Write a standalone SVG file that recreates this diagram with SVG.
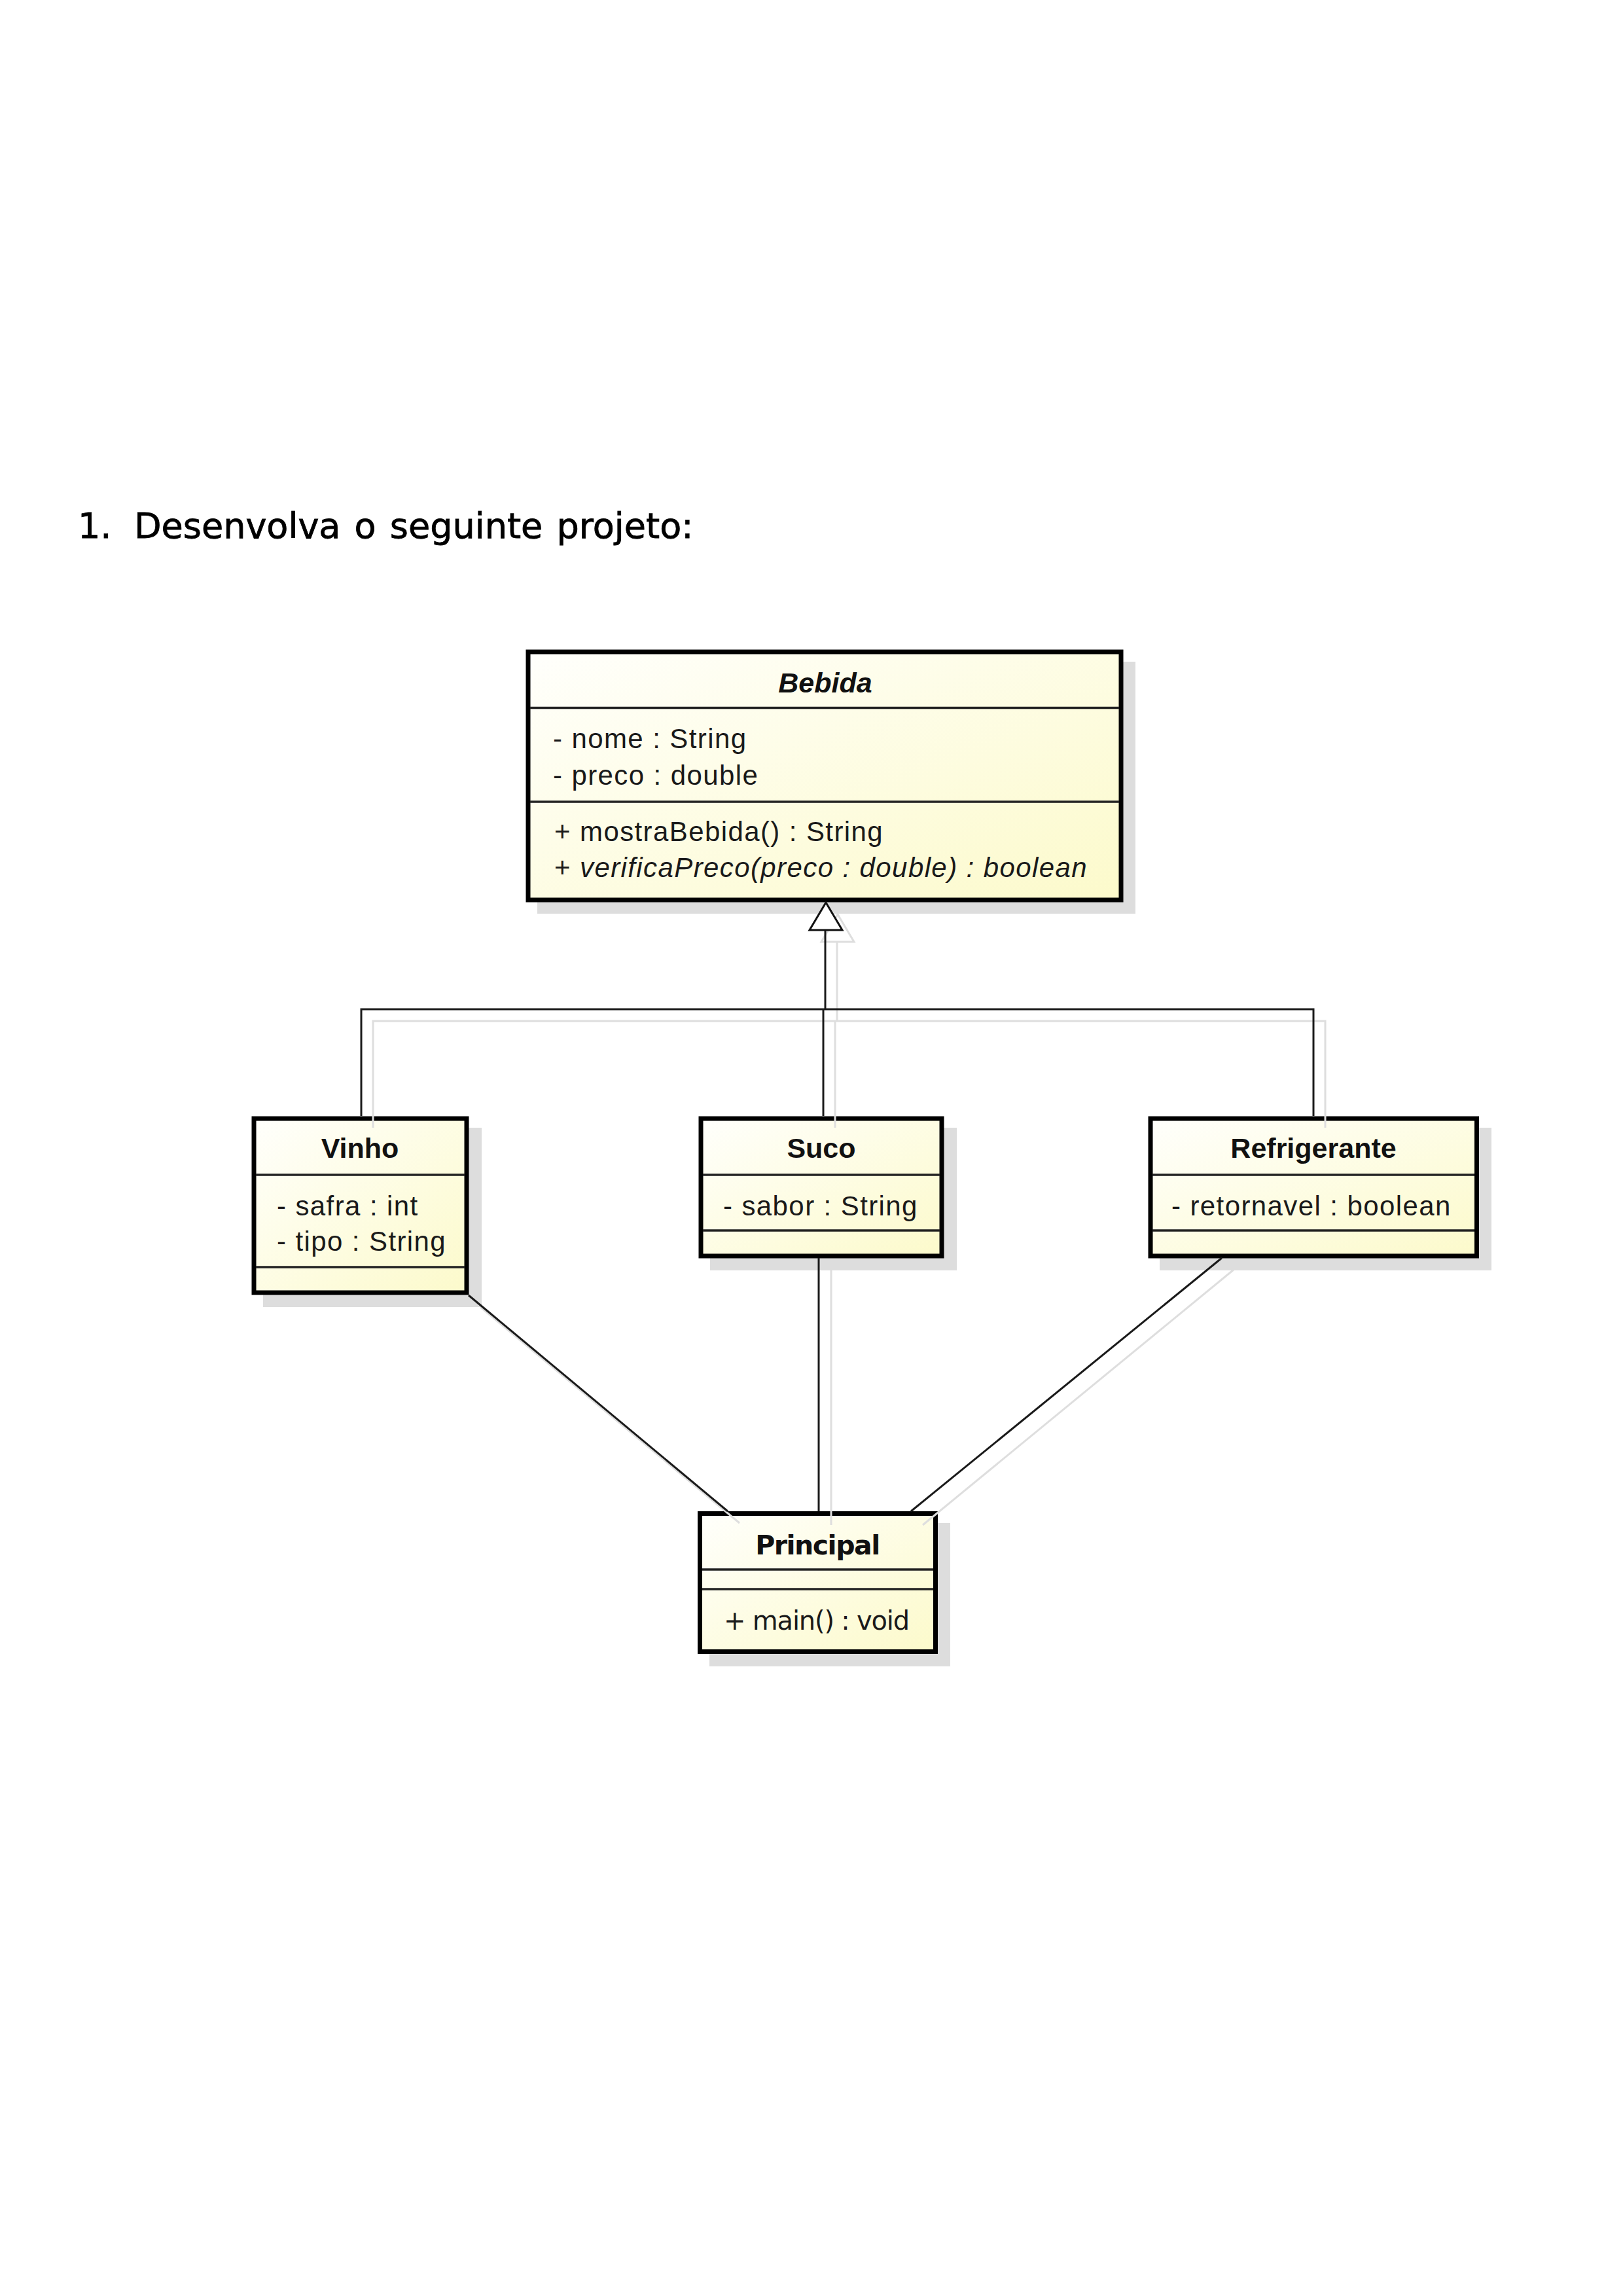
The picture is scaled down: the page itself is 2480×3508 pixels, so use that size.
<svg xmlns="http://www.w3.org/2000/svg" width="2480" height="3508" viewBox="0 0 2480 3508">
  <defs>
    <linearGradient id="classFill" x1="0" y1="0" x2="1" y2="1">
      <stop offset="0" stop-color="#fffffc"/>
      <stop offset="1" stop-color="#fcfacb"/>
    </linearGradient>
    <style>
      .shadow { fill: #dddddd; }
      .box { fill: url(#classFill); stroke: #000000; stroke-width: 7; }
      .sep { stroke: #222222; stroke-width: 3.5; }
      .name { font-family: "Liberation Sans", Arial, sans-serif; font-size: 43px; font-weight: bold; fill: #111111; text-anchor: middle; }
      .abstract { font-style: italic; }
      .member { font-family: "Liberation Sans", Arial, sans-serif; font-size: 42px; letter-spacing: 1.4px; fill: #1a1a1a; }
      .italic { font-style: italic; }
      .tname { font-family: "DejaVu Sans", Verdana, sans-serif; font-size: 41px; font-weight: bold; letter-spacing: -1.5px; fill: #111111; text-anchor: middle; }
      .tmember { font-family: "DejaVu Sans", Verdana, sans-serif; font-size: 40px; letter-spacing: -1.2px; fill: #1a1a1a; }
      .heading { font-family: "DejaVu Sans", Verdana, sans-serif; font-size: 54px; fill: #000000; stroke: #000000; stroke-width: 0.8; }
      .link { fill: none; stroke: #1a1a1a; stroke-width: 3; }
      .link-shadow { fill: none; stroke: #dedede; stroke-width: 3; }
    </style>
  </defs>

  <rect width="2480" height="3508" fill="#ffffff"/>

  <!-- exercise heading -->
  <text class="heading" x="119" y="822">1.</text>
  <text class="heading" x="205" y="822" word-spacing="4">Desenvolva o seguinte projeto:</text>

  <!-- abstract superclass -->
  <g id="bebida">
    <rect class="shadow" x="821" y="1011" width="914" height="385"/>
    <rect class="box" x="807" y="996" width="906" height="379"/>
    <line class="sep" x1="810" y1="1081.5" x2="1710" y2="1081.5"/>
    <line class="sep" x1="810" y1="1225" x2="1710" y2="1225"/>
    <text class="name abstract" x="1261" y="1058">Bebida</text>
    <text class="member" x="845" y="1143">- nome : String</text>
    <text class="member" x="845" y="1199">- preco : double</text>
    <text class="member" x="847" y="1285">+ mostraBebida() : String</text>
    <text class="member" x="847" y="1340">+ <tspan class="italic">verificaPreco(preco : double) : boolean</tspan></text>
  </g>

  <g id="vinho">
    <rect class="shadow" x="402" y="1723" width="334" height="274"/>
    <rect class="box" x="388" y="1709" width="325" height="266"/>
    <line class="sep" x1="391" y1="1795" x2="710" y2="1795"/>
    <line class="sep" x1="391" y1="1936" x2="710" y2="1936"/>
    <text class="name" x="550" y="1769">Vinho</text>
    <text class="member" x="423" y="1857">- safra : int</text>
    <text class="member" x="423" y="1911">- tipo : String</text>
  </g>

  <g id="suco">
    <rect class="shadow" x="1085" y="1723" width="377" height="218"/>
    <rect class="box" x="1071" y="1709" width="368" height="210"/>
    <line class="sep" x1="1074" y1="1795" x2="1436" y2="1795"/>
    <line class="sep" x1="1074" y1="1880" x2="1436" y2="1880"/>
    <text class="name" x="1255" y="1769">Suco</text>
    <text class="member" x="1105" y="1857">- sabor : String</text>
  </g>

  <g id="refrigerante">
    <rect class="shadow" x="1772" y="1723" width="507" height="218"/>
    <rect class="box" x="1758" y="1709" width="498.5" height="210"/>
    <line class="sep" x1="1761" y1="1795" x2="2253" y2="1795"/>
    <line class="sep" x1="1761" y1="1880" x2="2253" y2="1880"/>
    <text class="name" x="2007" y="1769">Refrigerante</text>
    <text class="member" x="1790" y="1857">- retornavel : boolean</text>
  </g>

  <g id="principal">
    <rect class="shadow" x="1084" y="2327" width="368" height="219"/>
    <rect class="box" x="1069.5" y="2312.5" width="360" height="211"/>
    <line class="sep" x1="1073" y1="2398" x2="1426" y2="2398"/>
    <line class="sep" x1="1073" y1="2428" x2="1426" y2="2428"/>
    <text class="tname" x="1249" y="2375">Principal</text>
    <text class="tmember" x="1106" y="2490">+ main() : void</text>
  </g>

  <g id="connectors">
    <!-- soft drop shadows of the connectors -->
    <g class="link-shadow">
      <polygon points="1280,1397 1305,1439 1255,1439" fill="none"/>
      <polyline points="1279,1439 1279,1560"/>
      <polyline points="570,1723 570,1560 2025,1560 2025,1723"/>
      <polyline points="1276,1560 1276,1723"/>
      <line x1="734" y1="1997" x2="1130" y2="2327"/>
      <line x1="1270" y1="1940" x2="1270" y2="2330"/>
      <line x1="1885" y1="1940" x2="1410" y2="2330"/>
    </g>

    <!-- generalization: Vinho, Suco, Refrigerante extend Bebida -->
    <polyline class="link" points="1261,1421 1261,1542"/>
    <polyline class="link" points="552,1705 552,1542 2007,1542 2007,1705"/>
    <polyline class="link" points="1258,1542 1258,1705"/>
    <polygon points="1262,1379 1287,1421 1237,1421" fill="#ffffff" stroke="#111111" stroke-width="3" stroke-linejoin="miter"/>

    <!-- associations from Principal -->
    <line class="link" x1="716" y1="1979" x2="1112" y2="2309"/>
    <line class="link" x1="1251" y1="1922" x2="1251" y2="2309"/>
    <line class="link" x1="1867" y1="1922" x2="1392" y2="2309"/>
  </g>
</svg>
